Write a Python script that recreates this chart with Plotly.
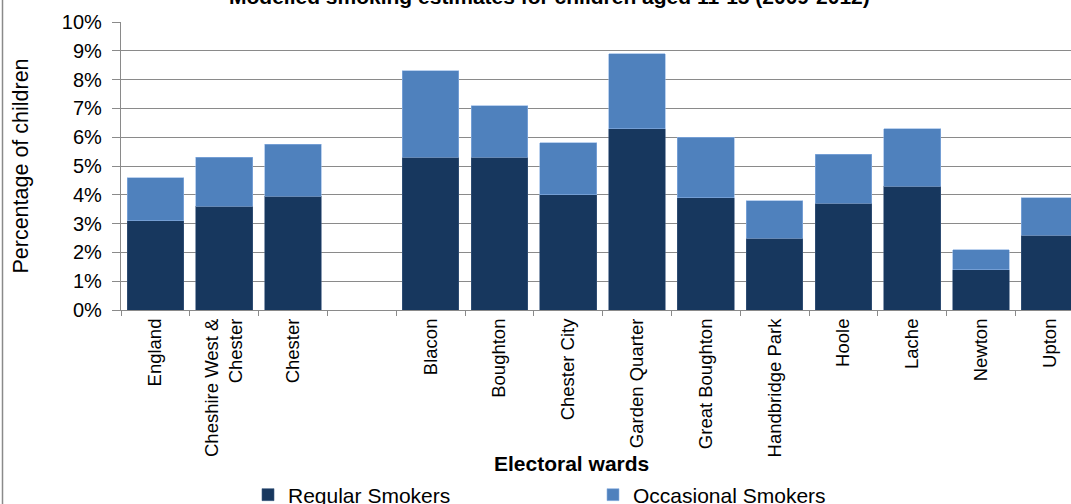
import plotly.graph_objects as go

categories = ["England", "Cheshire West &<br>Chester", "Chester", " ", "Blacon", "Boughton",
              "Chester City", "Garden Quarter", "Great Boughton", "Handbridge Park",
              "Hoole", "Lache", "Newton", "Upton"]
regular = [3.1, 3.6, 3.95, None, 5.3, 5.3, 4.0, 6.3, 3.9, 2.5, 3.7, 4.3, 1.4, 2.6]
total = [4.6, 5.3, 5.75, None, 8.3, 7.1, 5.8, 8.9, 6.0, 3.8, 5.4, 6.3, 2.1, 3.9]
occasional = [None if r is None else round(t - r, 2) for r, t in zip(regular, total)]

W, H = 1071, 504
L, R, T, B = 121, 0, 22, 194
ph = H - T - B
pw = W - L - R

fig = go.Figure()
fig.add_trace(go.Bar(x=categories, y=[None if v is None else v / 100 for v in regular],
                     name="Regular Smokers", marker=dict(color="#17375E", line=dict(color="#3d5a80", width=0.6))))
fig.add_trace(go.Bar(x=categories, y=[None if v is None else v / 100 for v in occasional],
                     name="Occasional Smokers", marker=dict(color="#4F81BD", line=dict(color="#8db3e2", width=0.6))))

grid = "#8a8a8a"
fig.update_layout(
    width=W, height=H, barmode="stack", bargap=0.175,
    margin=dict(l=L, r=R, t=T, b=B, autoexpand=False),
    plot_bgcolor="white", paper_bgcolor="white",
    font=dict(family="Liberation Sans, Arial", color="black"),
    showlegend=True,
    legend=dict(orientation="h", x=(248 - L) / pw, xanchor="left", y=(310 - 495) / ph, yanchor="middle",
                font=dict(size=21), entrywidth=300, entrywidthmode="pixels", itemwidth=30,
                traceorder="normal", bgcolor="rgba(0,0,0,0)"),
    xaxis=dict(type="category", range=[-0.5, -0.5 + pw / 68.8], tickangle=-90,
               tickfont=dict(size=18.5), ticks="outside", ticklen=5, tickcolor=grid,
               tickson="boundaries", showline=True, linecolor=grid, linewidth=1.3,
               showgrid=False, fixedrange=True),
    yaxis=dict(range=[0, 0.1], tickformat=".0%", dtick=0.01, tickfont=dict(size=20),
               ticks="outside", ticklen=8, tickcolor=grid, showline=True, linecolor=grid,
               linewidth=1.3, showgrid=True, gridcolor=grid, gridwidth=1.3,
               title=dict(text="Percentage of children", font=dict(size=21.5), standoff=27),
               ticklabelstandoff=6, zeroline=False),
    annotations=[
        dict(text="<b>Modelled smoking estimates for children aged 11-15 (2009-2012)</b>",
             xref="paper", yref="paper", x=(549 - L) / pw, y=1 + (T - 10) / ph,
             xanchor="center", yanchor="bottom", showarrow=False, font=dict(size=21)),
        dict(text="<b>Electoral wards</b>", xref="paper", yref="paper", x=(571 - L) / pw,
             y=(310 - 463) / ph, xanchor="center", yanchor="middle", showarrow=False,
             font=dict(size=21)),
    ],
    shapes=[dict(type="line", xref="paper", yref="paper", x0=(2.5 - L) / pw, x1=(2.5 - L) / pw,
                 y0=(310 - H) / ph, y1=310 / ph, line=dict(color="#8a8a8a", width=1.5))],
)

fig.write_html("out.html", config={"displayModeBar": False},
               post_script="document.body.style.margin='0';document.body.style.overflow='hidden';")
